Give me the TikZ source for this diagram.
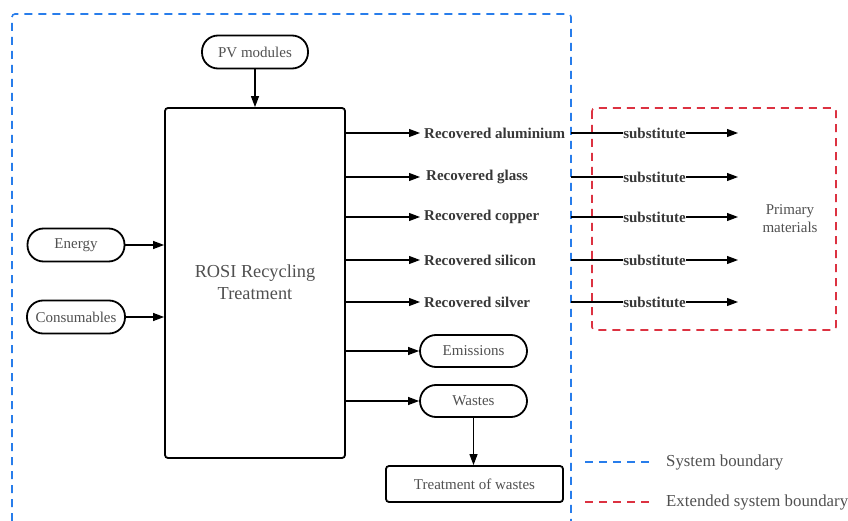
\documentclass[tikz,border=0pt]{standalone}
\usepackage{fontspec}
\setmainfont{Liberation Serif}
\usetikzlibrary{arrows.meta}
\definecolor{txtgray}{RGB}{80,80,80}
\definecolor{boldgray}{RGB}{55,55,55}
\definecolor{sysblue}{RGB}{40,125,235}
\definecolor{extred}{RGB}{220,50,65}
\begin{document}
\begin{tikzpicture}[x=1pt,y=-1pt,
  every node/.style={font=\fontsize{15}{17}\selectfont},
  pill/.style={draw,line width=1.8pt,rounded corners=16pt,minimum height=33pt,text=txtgray,inner sep=0pt},
  rbox/.style={draw,line width=1.8pt,rounded corners=3pt,text=txtgray,inner sep=0pt},
  arr/.style={line width=1.1pt,-{Triangle[length=11pt,width=8pt]}},
  rec/.style={anchor=west,font=\fontsize{15}{17}\selectfont\bfseries,text=boldgray,inner sep=2pt},
  sub/.style={fill=white,inner sep=0.5pt,font=\fontsize{15}{17}\selectfont\bfseries,text=boldgray},
  sysb/.style={draw=sysblue,line width=1.6pt,dash pattern=on 8pt off 6pt},
  extb/.style={draw=extred,line width=1.6pt,dash pattern=on 8pt off 6pt}]
\useasboundingbox (0,0) rectangle (848,521);
% boundaries
\draw[sysb,rounded corners=3pt] (12,521) -- (12,14) -- (571,14) -- (571,521);
\draw[extb,rounded corners=3pt] (592,108) rectangle (836,330);
% nodes
\node[pill,minimum width=106pt] (pv) at (255,52) {PV modules};
\node[rbox,minimum width=180pt,minimum height=350pt] (main) at (255,283) {};
\node[text=txtgray,align=center,font=\fontsize{18.3}{22}\selectfont] (mainlbl) at (255,282) {ROSI Recycling\\Treatment};
\node[pill,minimum width=97pt] (energy) at (76,245) {Energy};
\node[pill,minimum width=98pt] (cons) at (76,317) {Consumables};
\node[rec] (alu) at (422,133) {Recovered aluminium};
\node[rec] (gla) at (424,177) {Recovered glass};
\node[rec] (cop) at (422,217) {Recovered copper};
\node[rec] (sil) at (422,260) {Recovered silicon};
\node[rec] (sv) at (422,302) {Recovered silver};
\node[pill,minimum width=107pt,minimum height=32pt] (emi) at (473.5,351) {Emissions};
\node[pill,minimum width=107pt,minimum height=32pt] (was) at (473.5,401) {Wastes};
\node[rbox,minimum width=177pt,minimum height=36pt] (tow) at (474.5,484) {Treatment of wastes};
\node[text=txtgray,align=center,font=\fontsize{15}{18}\selectfont] (prim) at (790,219) {Primary\\materials};
% inputs
\draw[arr] (pv) -- (main.north);
\draw[arr] (energy) -- (energy -| main.west);
\draw[arr] (cons) -- (cons -| main.west);
% outputs
\foreach \n in {alu,gla,cop,sil,sv}{
  \coordinate (e\n) at (420,0);
  \draw[arr] (main.east |- \n.west) -- (e\n |- \n.west);
}
\draw[arr] (main.east |- emi.west) -- (emi.west);
\draw[arr] (main.east |- was.west) -- (was.west);
\draw[arr] (was.south) -- (was.south |- tow.north);
% substitute lines
\foreach \y/\n in {133/1,177/2,217/3,260/4,302/5}{
  \coordinate (s\n) at (571,\y);
  \coordinate (t\n) at (738,\y);
  \draw[arr] (s\n) -- node[sub,pos=0.5]{substitute} (t\n);
}
% legend
\coordinate (lb1) at (585,462); \coordinate (lb2) at (652,462);
\coordinate (lr1) at (585,502); \coordinate (lr2) at (652,502);
\draw[sysb] (lb1) -- (lb2);
\draw[extb] (lr1) -- (lr2);
\node[anchor=west,text=txtgray,inner sep=0pt,font=\fontsize{16.8}{19}\selectfont] (leg1) at (666,462) {System boundary};
\node[anchor=west,text=txtgray,inner sep=0pt,font=\fontsize{16.8}{19}\selectfont] (leg2) at (666,502) {Extended system boundary};
\end{tikzpicture}
\end{document}
